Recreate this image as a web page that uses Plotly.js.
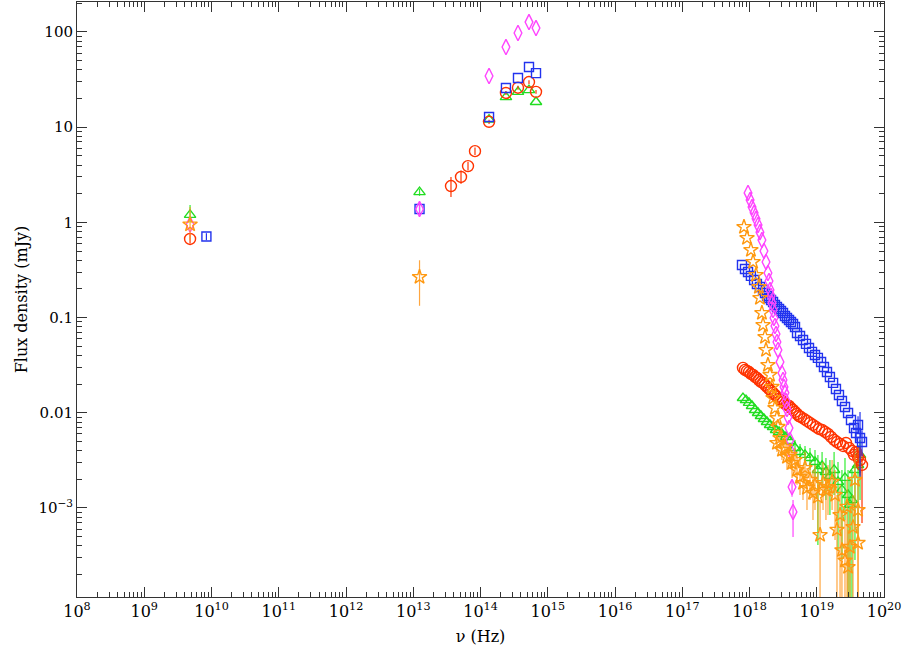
<!DOCTYPE html>
<html>
<head>
<meta charset="utf-8">
<script src="https://cdn.plot.ly/plotly-3.0.1.min.js"></script>
<style>html,body{margin:0;padding:0;background:#fff;}#chart{width:907px;height:657px;}</style>
</head>
<body>
<div id="chart"></div>
<script>
// ---------- data (frequency in Hz, flux density in mJy; lo/hi = error bar bounds) ----------
const redNu = [4.8e9, 3.64e13, 5.13e13, 6.52e13, 8.28e13, 1.34e14, 2.39e14, 3.61e14, 5.26e14, 6.69e14,
  8.00e17, 8.57e17, 9.19e17, 9.84e17, 1.05e18, 1.13e18, 1.21e18, 1.29e18, 1.38e18, 1.48e18,
  1.59e18, 1.70e18, 1.82e18, 1.95e18, 2.09e18, 2.24e18, 2.39e18, 2.56e18, 2.75e18, 2.94e18,
  3.15e18, 3.37e18, 3.61e18, 3.87e18, 4.14e18, 4.44e18, 4.75e18, 5.09e18, 5.45e18, 5.83e18,
  6.46e18, 7.16e18, 7.94e18, 8.79e18, 9.75e18, 1.08e19, 1.20e19, 1.33e19, 1.47e19, 1.63e19,
  1.81e19, 2.00e19, 2.22e19, 2.46e19, 2.72e19, 3.02e19, 3.34e19,
  3.58e19, 3.84e19, 4.11e19, 4.40e19, 4.71e19];
const redFlux = [0.67, 2.41, 3.0, 3.9, 5.6, 11.4, 22.9, 26, 29.8, 23.5,
  0.0296, 0.0282, 0.0275, 0.0268, 0.0256, 0.0250, 0.0238, 0.0232, 0.0221, 0.0211,
  0.0206, 0.0196, 0.0187, 0.0178, 0.0170, 0.0162, 0.0154, 0.0147, 0.0140, 0.0136,
  0.0130, 0.0124, 0.0121, 0.0118, 0.0112, 0.0107, 0.0102, 0.00971, 0.00925, 0.00903,
  0.00861, 0.00820, 0.00782, 0.00745, 0.00710, 0.00676, 0.00660, 0.00629, 0.00599, 0.00557,
  0.00518, 0.00493, 0.00470, 0.00448, 0.00482, 0.00427, 0.00397,
  0.00361, 0.00388, 0.00344, 0.00319, 0.00283];
const redLo = [0.60, 1.85, 2.55, 3.5, 5.1, 10.8, 21.8, 24.8, 28.4, 22.4,
  null, null, null, null, null, null, null, null, null, null,
  null, null, null, null, null, null, null, null, null, null,
  null, null, null, null, null, null, null, null, null, null,
  null, null, null, null, null, null, null, null, null, null,
  null, null, null, null, null, null, null,
  0.0030, null, 0.0027, 0.0022, 0.000695];
const redHi = [0.75, 3.0, 3.5, 4.3, 6.1, 12.0, 24.0, 27.2, 31.2, 24.6,
  null, null, null, null, null, null, null, null, null, null,
  null, null, null, null, null, null, null, null, null, null,
  null, null, null, null, null, null, null, null, null, null,
  null, null, null, null, null, null, null, null, null, null,
  null, null, null, null, null, null, null,
  0.0043, null, 0.0044, 0.0045, 0.0036];

const blueNu = [8.4e9, 1.24e13, 1.34e14, 2.39e14, 3.61e14, 5.26e14, 6.69e14,
  7.73e17, 8.57e17, 9.51e17, 1.05e18, 1.17e18, 1.29e18, 1.43e18, 1.59e18, 1.70e18, 1.82e18,
  1.95e18, 2.09e18, 2.24e18, 2.39e18, 2.56e18, 2.75e18, 2.94e18, 3.15e18, 3.37e18, 3.61e18,
  3.87e18, 4.14e18, 4.44e18, 4.75e18, 5.09e18, 5.64e18, 6.25e18, 6.92e18, 7.67e18, 8.50e18,
  9.42e18, 1.04e19, 1.16e19, 1.28e19, 1.42e19, 1.57e19, 1.75e19, 1.93e19, 2.14e19, 2.37e19,
  2.63e19, 2.92e19, 3.23e19, 3.58e19, 3.84e19, 4.11e19, 4.40e19, 4.71e19];
const blueFlux = [0.71, 1.38, 12.8, 25.8, 32.9, 42.9, 37,
  0.357, 0.324, 0.301, 0.274, 0.248, 0.2255, 0.2095, 0.195, 0.181, 0.1686,
  0.1607, 0.1531, 0.1459, 0.1356, 0.1292, 0.1231, 0.1173, 0.1117, 0.1040, 0.0991,
  0.0944, 0.0899, 0.0857, 0.0797, 0.0690, 0.0641, 0.0582, 0.0529, 0.0480, 0.0436,
  0.0405, 0.0377, 0.0342, 0.0303, 0.0268, 0.0238, 0.0206, 0.0178, 0.0154, 0.0133,
  0.0115, 0.00995, 0.00839, 0.00692, 0.00613, 0.00745, 0.00543, 0.00493];
const blueLo = [0.65, 1.28, null, null, null, null, null,
  null, null, null, null, null, null, null, null, null, null,
  null, null, null, null, null, null, null, null, null, null,
  null, null, null, null, null, null, null, null, null, null,
  null, null, null, null, null, null, null, null, null, null,
  null, null, null, null, 0.0050, 0.0060, 0.00212, 0.0035];
const blueHi = [0.77, 1.48, null, null, null, null, null,
  null, null, null, null, null, null, null, null, null, null,
  null, null, null, null, null, null, null, null, null, null,
  null, null, null, null, null, null, null, null, null, null,
  null, null, null, null, null, null, null, null, null, null,
  null, null, null, null, 0.0075, 0.0092, 0.0102, 0.0065];

const greenNu = [4.8e9, 1.24e13, 1.34e14, 2.39e14, 3.61e14, 5.26e14, 6.69e14,
  8.00e17, 8.87e17, 9.84e17, 1.09e18, 1.21e18, 1.34e18, 1.48e18, 1.64e18, 1.82e18, 2.02e18,
  2.24e18, 2.48e18, 2.75e18, 3.04e18, 3.49e18, 4.00e18,
  4.75e18, 5.64e18, 6.69e18, 7.94e18, 9.42e18, 1.04e19, 1.20e19, 1.37e19, 1.57e19, 1.81e19,
  2.07e19, 2.37e19, 2.63e19, 2.92e19, 3.12e19, 3.34e19, 3.70e19, 4.11e19, 4.40e19];
const greenFlux = [1.2, 2.08, 12.0, 20.7, 23.5, 24.5, 18.4,
  0.01429, 0.0136, 0.0127, 0.0118, 0.0107, 0.00995, 0.00925, 0.00861, 0.00800, 0.00745,
  0.00710, 0.00660, 0.00629, 0.00599, 0.00557, 0.00506,
  0.00427, 0.00388, 0.00361, 0.00335, 0.00304, 0.00251, 0.00276, 0.00239, 0.00217, 0.00251,
  0.00188, 0.00155, 0.00207, 0.00137, 0.00108, 0.00121, 0.00251, 0.00283, 0.00361];
const greenLo = [1.0, 1.9, null, null, null, null, null,
  null, null, null, null, null, null, null, null, null, null,
  null, null, null, null, null, null,
  0.00352, 0.00319, 0.00283, 0.00251, 0.00207, 0.000409, 0.00175, 0.00121, 0.000844, 0.00137,
  0.000362, 0.000284, 0.000748, 0.00005, 0.00005, 0.00005, 0.000284, 0.000461, 0.00121];
const greenHi = [1.52, 2.25, null, null, null, null, null,
  null, null, null, null, null, null, null, null, null, null,
  null, null, null, null, null, null,
  0.00518, 0.00470, 0.00448, 0.00427, 0.00407, 0.00361, 0.00388, 0.00335, 0.00319, 0.00388,
  0.00304, 0.00251, 0.00335, 0.00251, 0.00197, 0.00251, 0.00407, 0.00459, 0.00518];

const magNu = [4.8e9, 1.24e13, 1.34e14, 2.39e14, 3.61e14, 5.26e14, 6.69e14,
  9.51e17, 1.02e18, 1.09e18, 1.17e18, 1.25e18, 1.34e18, 1.43e18, 1.53e18, 1.64e18, 1.76e18,
  1.88e18, 1.95e18, 2.02e18, 2.09e18, 2.16e18, 2.24e18, 2.31e18, 2.39e18, 2.48e18, 2.56e18,
  2.65e18, 2.84e18, 3.04e18, 3.15e18, 3.26e18, 3.37e18, 3.49e18, 3.61e18, 3.74e18, 3.87e18,
  4.00e18, 4.14e18, 4.29e18, 4.44e18];
const magFlux = [0.95, 1.38, 34.5, 69.5, 97.6, 127, 110,
  2.04, 1.72, 1.45, 1.26, 1.09, 0.94, 0.79, 0.653, 0.501, 0.384,
  0.294, 0.242, 0.195, 0.1686, 0.142, 0.120, 0.0991, 0.0816, 0.0673, 0.0554,
  0.0457, 0.0342, 0.0262, 0.0221, 0.0187, 0.0162, 0.0133, 0.01096, 0.00903, 0.00692,
  0.00518, 0.00388, 0.00166, 0.00091];
const magLo = [null, 1.2, null, null, null, null, null,
  null, null, null, null, null, null, null, null, null, null,
  null, null, null, null, null, null, null, null, null, null,
  null, null, null, null, null, null, null, null, null, null,
  null, null, 0.00131, 0.000496];
const magHi = [null, 1.6, null, null, null, null, null,
  null, null, null, null, null, null, null, null, null, null,
  null, null, null, null, null, null, null, null, null, null,
  null, null, null, null, null, null, null, null, null, null,
  null, null, 0.00197, 0.00121];

const orNu = [4.8e9, 1.24e13,
  8.28e17, 9.19e17, 1.05e18, 1.13e18, 1.25e18, 1.38e18, 1.43e18, 1.53e18, 1.59e18, 1.70e18,
  1.76e18, 1.88e18, 2.02e18, 2.16e18, 2.24e18, 2.39e18, 2.56e18, 2.65e18,
  2.56e18, 2.84e18, 3.04e18, 3.37e18, 3.61e18, 4.00e18, 4.29e18, 4.75e18, 5.09e18, 5.64e18,
  6.25e18, 6.69e18, 7.16e18, 7.94e18, 8.79e18, 9.42e18, 1.04e19, 1.12e19, 1.24e19, 1.37e19,
  1.47e19, 1.69e19, 1.87e19, 2.00e19, 2.22e19, 2.37e19, 2.63e19, 2.82e19, 2.92e19, 3.12e19,
  3.46e19, 3.70e19, 4.11e19, 4.11e19];
const orFlux = [0.95, 0.267,
  0.895, 0.686, 0.513, 0.384, 0.280, 0.2095, 0.1607, 0.1117, 0.0836, 0.0625,
  0.0457, 0.0318, 0.0250, 0.0187, 0.01429, 0.0112, 0.0088, 0.0071,
  0.00482, 0.00543, 0.00407, 0.00437, 0.00343, 0.00361, 0.00297, 0.00319, 0.00251, 0.00212,
  0.00183, 0.00263, 0.00162, 0.00197, 0.00144, 0.00175, 0.00131, 0.00052, 0.00183, 0.00155,
  0.00166, 0.00188, 0.00137, 0.00059, 0.000844, 0.00036, 0.00028, 0.00103, 0.00024, 0.00039,
  0.00063, 0.00197, 0.000953, 0.00043];
const orLo = [0.65, 0.133,
  null, null, null, null, null, null, null, null, null, null,
  null, null, null, null, null, null, null, null,
  0.00388, 0.00437, 0.00319, 0.00343, 0.00251, 0.0027, 0.00207, 0.00233, 0.00175, 0.00137,
  0.00121, 0.00175, 0.000953, 0.00121, 0.000748, 0.000953, 0.000587, 0.00005, 0.000953, 0.000748,
  0.000844, 0.000953, 0.000461, 0.00005, 0.00005, 0.00005, 0.00005, 0.00005, 0.00005, 0.00005,
  0.00005, 0.000587, 0.00005, 0.00005];
const orHi = [1.45, 0.40,
  null, null, null, null, null, null, null, null, null, null,
  null, null, null, null, null, null, null, null,
  0.00585, 0.0066, 0.00518, 0.00557, 0.00459, 0.00482, 0.00407, 0.00427, 0.00361, 0.00319,
  0.00283, 0.00388, 0.00263, 0.00304, 0.00251, 0.00283, 0.00239, 0.00121, 0.00304, 0.00263,
  0.00283, 0.00319, 0.00251, 0.00137, 0.00175, 0.000953, 0.000748, 0.00197, 0.00059, 0.000953,
  0.00137, 0.00361, 0.00197, 0.00108];

const xTickVals = [1e8,1e9,1e10,1e11,1e12,1e13,1e14,1e15,1e16,1e17,1e18,1e19,1e20];
const xTickText = ['10<sup>8</sup>','10<sup>9</sup>','10<sup>10</sup>','10<sup>11</sup>','10<sup>12</sup>',
  '10<sup>13</sup>','10<sup>14</sup>','10<sup>15</sup>','10<sup>16</sup>','10<sup>17</sup>',
  '10<sup>18</sup>','10<sup>19</sup>','10<sup>20</sup>'];
const yTickVals = [1e-3, 0.01, 0.1, 1, 10, 100];
const yTickText = ['10<sup>\u22123</sup>', '0.01', '0.1', '1', '10', '100'];

// ---------- build ----------
function minorVals(e0, e1) {
  const v = [];
  for (let e = e0; e <= e1; e++) for (let k = 2; k <= 9; k++) v.push(k * Math.pow(10, e));
  return v;
}
function errs(flux, lo, hi) {
  return {
    plus: flux.map((f, i) => hi[i] == null ? 0 : hi[i] - f),
    minus: flux.map((f, i) => lo[i] == null ? 0 : f - lo[i])
  };
}
function series(nu, flux, lo, hi, symbol, size, color, ecolor) {
  const e = errs(flux, lo, hi);
  return {
    x: nu, y: flux, type: 'scatter', mode: 'markers', showlegend: false, hoverinfo: 'skip',
    marker: { symbol: symbol, size: size, color: color, line: { width: 1.4, color: color } },
    error_y: { type: 'data', symmetric: false, array: e.plus, arrayminus: e.minus,
      color: ecolor, thickness: 1.2, width: 0 }
  };
}

const traces = [
  series(greenNu, greenFlux, greenLo, greenHi, 'triangle-up-open', 10, '#22dd22', '#33ee33'),
  series(redNu, redFlux, redLo, redHi, 'circle-open', 11, '#ff3300', '#ff3300'),
  series(blueNu, blueFlux, blueLo, blueHi, 'square-open', 9, '#2233ee', '#2233ee'),
  series(magNu, magFlux, magLo, magHi, 'diamond-tall-open', 11, '#ff44ff', '#ff44ff'),
  series(orNu, orFlux, orLo, orHi, 'star-open', 11, '#ff9911', 'rgba(255,150,30,0.85)')
];

const axisCommon = {
  type: 'log', showline: true, linecolor: '#333', linewidth: 1, mirror: 'allticks',
  ticks: 'inside', ticklen: 10, tickwidth: 1, tickcolor: '#333', showgrid: false, zeroline: false,
  tickmode: 'array', tickfont: { family: 'DejaVu Serif', size: 15, color: '#000' }
};

const layout = {
  width: 907, height: 657,
  margin: { l: 77, r: 23, t: 2, b: 60 },
  paper_bgcolor: '#fff', plot_bgcolor: '#fff',
  font: { family: 'DejaVu Serif', color: '#000' },
  xaxis: Object.assign({}, axisCommon, {
    range: [8, 20], tickvals: xTickVals, ticktext: xTickText,
    tickfont: { family: 'DejaVu Serif', size: 16, color: '#000' },
    minor: { tickmode: 'array', tickvals: minorVals(8, 19), ticks: 'inside', ticklen: 5, tickwidth: 1, tickcolor: '#333' },
    title: { text: '\u03bd (Hz)', font: { family: 'DejaVu Serif', size: 16, color: '#000' }, standoff: 10 }
  }),
  yaxis: Object.assign({}, axisCommon, {
    range: [-3.935, 2.315], tickvals: yTickVals, ticktext: yTickText,
    minor: { tickmode: 'array', tickvals: minorVals(-4, 2), ticks: 'inside', ticklen: 5, tickwidth: 1, tickcolor: '#333' },
    title: { text: 'Flux density (mJy)', font: { family: 'DejaVu Serif', size: 16, color: '#000' }, standoff: 6 }
  })
};

Plotly.newPlot('chart', traces, layout, { staticPlot: true, displayModeBar: false });
</script>
</body>
</html>
